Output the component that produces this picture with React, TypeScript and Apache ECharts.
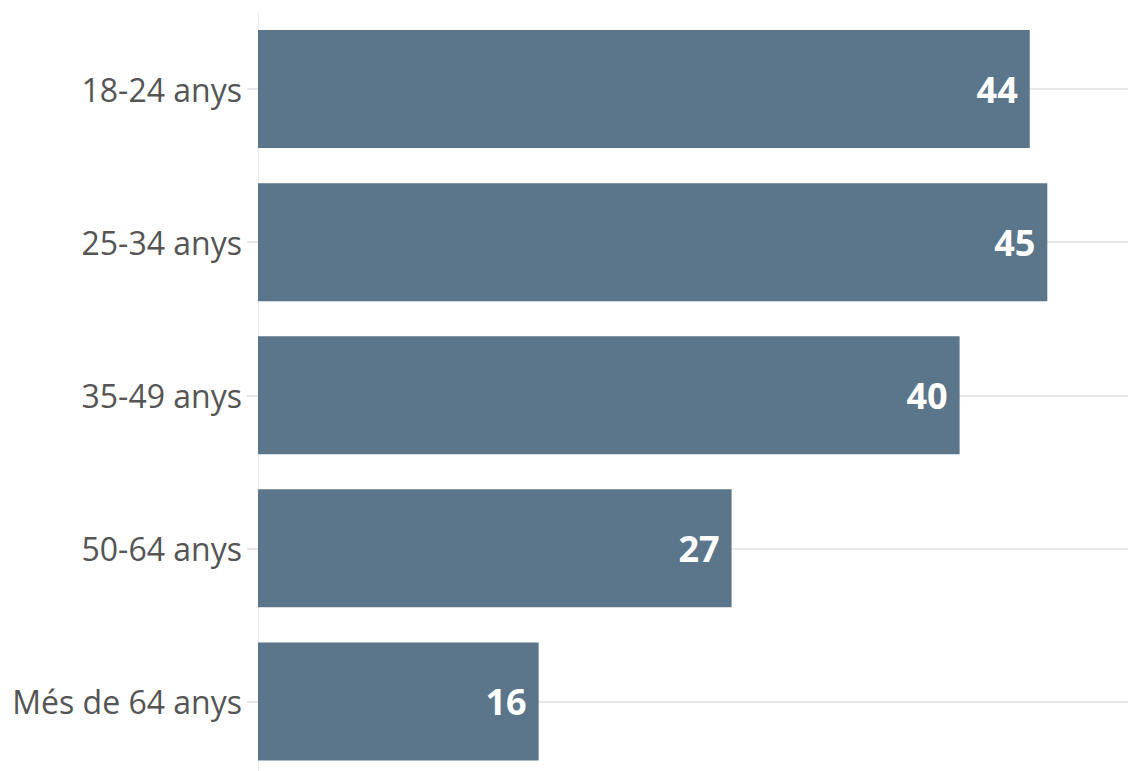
import React, { useEffect, useRef } from "react";
import * as echarts from "echarts";

const categories: string[] = ["18-24 anys", "25-34 anys", "35-49 anys", "50-64 anys", "Més de 64 anys"];
const values: number[] = [44, 45, 40, 27, 16];

const FONT = "'Open Sans', 'Noto Sans', sans-serif";

export default function App() {
  const ref = useRef<HTMLDivElement>(null);
  useEffect(() => {
    if (!ref.current) return;
    const chart = echarts.init(ref.current, undefined, { renderer: "svg" });
    chart.setOption({
      animation: false,
      backgroundColor: "#ffffff",
      grid: { left: 258, right: 0, top: 12.5, bottom: 0, containLabel: false },
      xAxis: {
        type: "value",
        min: 0,
        max: 49.6,
        show: false,
        splitLine: { show: false },
      },
      yAxis: {
        type: "category",
        inverse: true,
        data: categories,
        axisLine: { show: true, lineStyle: { color: "#ebebeb", width: 1 } },
        axisTick: { show: true, alignWithLabel: true, length: 11, lineStyle: { color: "#e6e6e6", width: 2 } },
        axisLabel: { fontSize: 32, color: "#555555", margin: 16, fontFamily: FONT },
        splitLine: { show: false },
      },
      series: [
        {
          type: "bar",
          data: values,
          barWidth: 118,
          z: 2,
          itemStyle: { color: "#5b768b" },
          label: {
            show: true,
            position: "insideRight",
            distance: 12,
            color: "#ffffff",
            fontSize: 36,
            fontWeight: "bold",
            fontFamily: FONT,
          },
          markLine: {
            silent: true,
            z: 1,
            symbol: "none",
            label: { show: false },
            lineStyle: { color: "#e8e8e8", type: "solid", width: 2 },
            data: categories.map((c) => ({ yAxis: c })),
          },
        },
      ],
    });
    return () => chart.dispose();
  }, []);
  return (
    <div style={{ position: "fixed", left: 0, top: 0, width: 1128, height: 771, overflow: "hidden" }}>
      <div ref={ref} style={{ width: 1128, height: 778 }} />
    </div>
  );
}
